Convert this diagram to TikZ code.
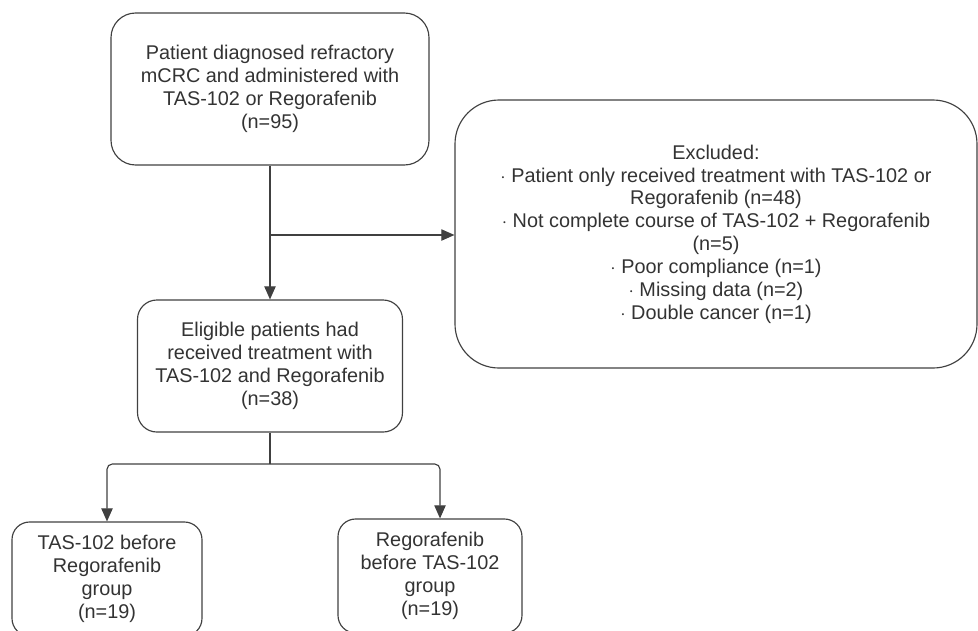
\documentclass[tikz,border=0pt]{standalone}
\usepackage{fontspec}
\setmainfont{Liberation Sans}
\usetikzlibrary{arrows.meta}
\tikzset{>/.tip={Triangle[width=6.5pt,length=7.5pt]}}
\tikzset{box/.style={draw=black!75, line width=0.65pt, align=center, text=black!80,
  font=\fontsize{11.3}{13}\selectfont, inner sep=0pt}}

\begin{document}
\begin{tikzpicture}[line width=0.65pt, draw=black!75]
\useasboundingbox (0,0) rectangle (19.56,-12.6);
\clip (0,0) rectangle (19.56,-12.6);

\node[box, rounded corners=14pt, minimum width=6.36cm, minimum height=3.04cm] (start) at (5.4,-1.78)
  {Patient diagnosed refractory\\mCRC and administered with\\TAS-102 or Regorafenib\\(n=95)};
\node[box, rounded corners=25pt, minimum width=10.44cm, minimum height=5.36cm] (excl) at (14.32,-4.68)
  {Excluded:\\$\cdot$ Patient only received treatment with TAS-102 or\\Regorafenib (n=48)\\
   $\cdot$ Not complete course of TAS-102 + Regorafenib\\(n=5)\\$\cdot$ Poor compliance (n=1)\\
   $\cdot$ Missing data (n=2)\\$\cdot$ Double cancer (n=1)};
\node[box, rounded corners=11pt, minimum width=5.3cm, minimum height=2.64cm] (elig) at (5.4,-7.32)
  {Eligible patients had\\received treatment with\\TAS-102 and Regorafenib\\(n=38)};
\node[box, rounded corners=10pt, minimum width=3.8cm, minimum height=2.28cm] (grpA) at (2.14,-11.58)
  {TAS-102 before\\Regorafenib\\group\\(n=19)};
\node[box, rounded corners=10pt, minimum width=3.68cm, minimum height=2.28cm] (grpB) at (8.6,-11.52)
  {Regorafenib\\before TAS-102\\group\\(n=19)};

\coordinate (cut) at (5.4,-4.70);
\coordinate (split) at (5.4,-9.28);

\draw[->] (start) -- (elig);
\draw[->] (cut) -- (cut -| excl.west);
\draw (elig) -- (split);
\draw[->, rounded corners=3pt] (split) -| (grpA.north);
\draw[->, rounded corners=3pt] (split) -| ([xshift=5.7pt]grpB.north);
\end{tikzpicture}
\end{document}
